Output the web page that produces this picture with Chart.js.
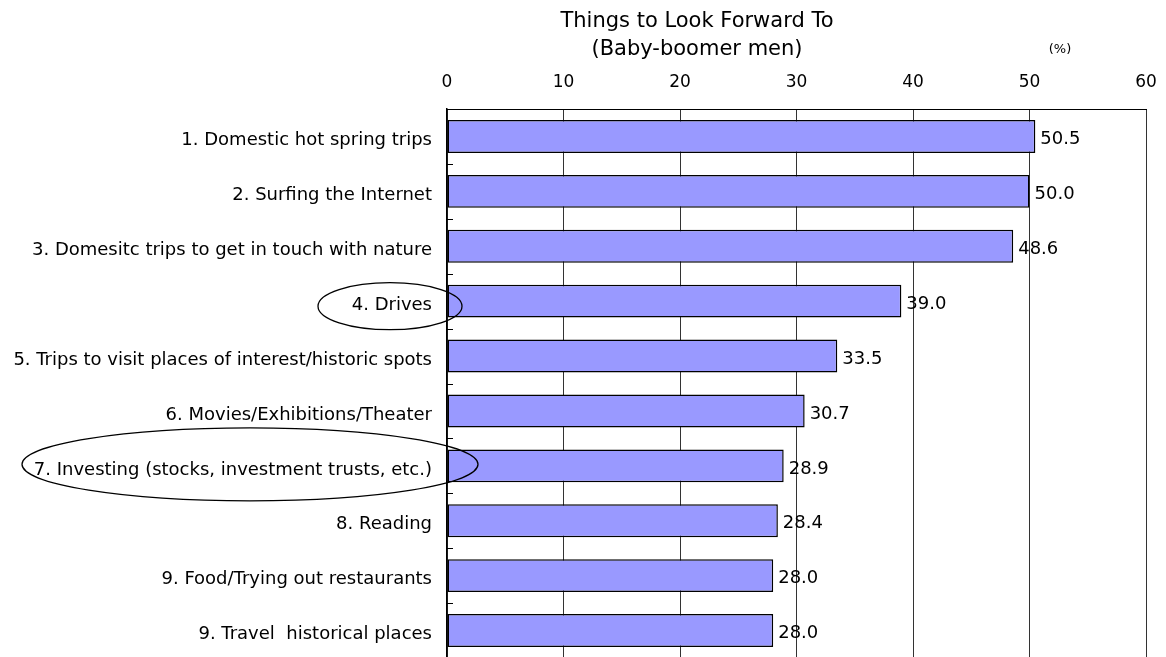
<!DOCTYPE html>
<html><head><meta charset="utf-8">
<script src="https://cdn.jsdelivr.net/npm/chart.js@4"></script>
<style>
html,body{margin:0;padding:0;background:#fff;overflow:hidden;width:1166px;height:657px;}
#wrap{position:relative;width:1166px;height:680px;}
</style></head>
<body><div id="wrap"><canvas id="c"></canvas></div>
<script>
const categories = [
  "1. Domestic hot spring trips",
  "2. Surfing the Internet",
  "3. Domesitc trips to get in touch with nature",
  "4. Drives",
  "5. Trips to visit places of interest/historic spots",
  "6. Movies/Exhibitions/Theater",
  "7. Investing (stocks, investment trusts, etc.)",
  "8. Reading",
  "9. Food/Trying out restaurants",
  "9. Travel  historical places"
];
const values = [50.5, 50.0, 48.6, 39.0, 33.5, 30.7, 28.9, 28.4, 28.0, 28.0];
const titleLines = ["Things to Look Forward To", "(Baby-boomer men)"];
const unitLabel = "(%)";
const circled = [3, 6];

const FONT = "'DejaVu Sans', sans-serif";

const extras = {
  id: 'extras',
  afterDraw(chart) {
    const ctx = chart.ctx;
    const xs = chart.scales.x, ys = chart.scales.y;
    const area = chart.chartArea;
    ctx.save();
    ctx.strokeStyle = '#000'; ctx.lineWidth = 1;
    for (let i = 0; i < categories.length - 1; i++) {
      const y = Math.round(ys.getPixelForValue(i + 0.5)) + 0.5;
      ctx.beginPath(); ctx.moveTo(area.left, y); ctx.lineTo(area.left + 6, y); ctx.stroke();
    }
    ctx.fillStyle = '#000';
    ctx.font = '18px ' + FONT;
    ctx.textAlign = 'left'; ctx.textBaseline = 'middle';
    const meta = chart.getDatasetMeta(0);
    meta.data.forEach((bar, i) => {
      ctx.fillText(values[i].toFixed(1), bar.x + 5, bar.y + 3);
    });
    ctx.textAlign = 'center';
    ctx.font = '21px ' + FONT;
    ctx.fillText(titleLines[0], 697, 22);
    ctx.fillText(titleLines[1], 697, 50);
    ctx.font = '13px ' + FONT;
    ctx.fillText(unitLabel, 1060, 50);
    ctx.strokeStyle = '#000'; ctx.lineWidth = 1.3;
    const e1y = ys.getPixelForValue(circled[0]) + 5;
    ctx.beginPath(); ctx.ellipse(area.left - 57, e1y, 72, 23.5, 0, 0, Math.PI * 2); ctx.stroke();
    const e2y = ys.getPixelForValue(circled[1]) - 1.5;
    ctx.beginPath(); ctx.ellipse(area.left - 197, e2y, 228, 36.5, 0, 0, Math.PI * 2); ctx.stroke();
    ctx.restore();
  }
};

new Chart(document.getElementById('c'), {
  type: 'bar',
  data: {
    labels: categories,
    datasets: [{
      data: values,
      backgroundColor: '#9999FF',
      borderColor: '#000',
      borderWidth: 1.5,
      borderSkipped: false,
      barPercentage: 0.6,
      categoryPercentage: 1.0
    }]
  },
  options: {
    indexAxis: 'y',
    responsive: true,
    maintainAspectRatio: false,
    animation: false,
    layout: { padding: { top: 61, left: 0, right: 20, bottom: 22 } },
    plugins: { legend: { display: false }, tooltip: { enabled: false }, title: { display: false } },
    scales: {
      x: {
        position: 'top',
        min: 0, max: 60,
        afterFit(s) { s.height = 48; s.paddingLeft = 0; s.paddingRight = 0; },
        ticks: { stepSize: 10, color: '#000', font: { family: FONT, size: 17 }, padding: 16 },
        grid: { color: '#333', lineWidth: 1, drawTicks: false },
        border: { color: '#000', width: 1 }
      },
      y: {
        afterFit(s) { s.width = 447; s.paddingTop = 0; s.paddingBottom = 0; },
        ticks: { color: '#000', font: { family: FONT, size: 18 }, padding: 15, autoSkip: false, labelOffset: 4 },
        grid: { display: false, drawTicks: false },
        border: { color: '#000', width: 1.5 }
      }
    }
  },
  plugins: [extras]
});
</script>
</body></html>
